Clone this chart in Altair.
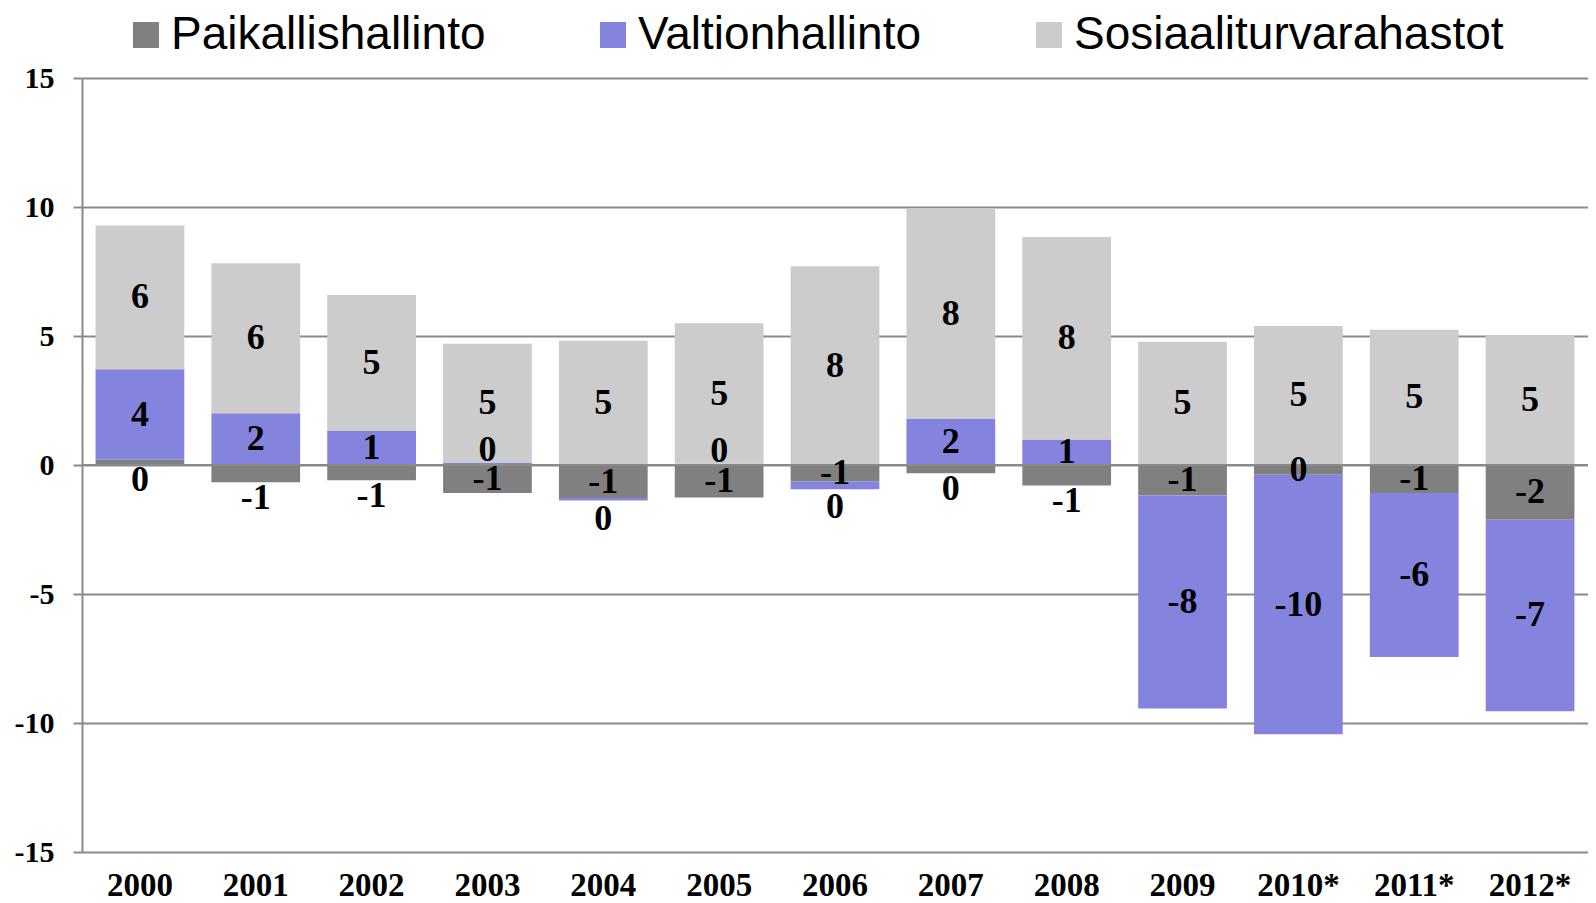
import altair as alt
import pandas as pd

years = ["2000", "2001", "2002", "2003", "2004", "2005", "2006",
         "2007", "2008", "2009", "2010*", "2011*", "2012*"]
series = ["Paikallishallinto", "Valtionhallinto", "Sosiaaliturvarahastot"]
colors = ["#808080", "#8484DE", "#CCCCCC"]

paikallis = [0.2, -0.67, -0.59, -1.09, -1.28, -1.26, -0.64, -0.32, -0.79, -1.18, -0.38, -1.09, -2.12]
valtion = [3.51, 2.01, 1.34, 0.1, -0.1, 0.05, -0.3, 1.78, 0.99, -8.26, -10.06, -6.35, -7.42]
sosiaali = [5.57, 5.81, 5.25, 4.6, 4.82, 5.44, 7.70, 8.17, 7.85, 4.78, 5.39, 5.24, 5.04]

y_ticks = [-15, -10, -5, 0, 5, 10, 15]

rows = []
for i, y in enumerate(years):
    for k, (s, vals) in enumerate(zip(series, [paikallis, valtion, sosiaali])):
        rows.append({"year": y, "series": s, "value": vals[i], "ord": k})
df = pd.DataFrame(rows)

GRID = "#8a8a8a"

x_enc = alt.X(
    "year:N", sort=years,
    scale=alt.Scale(paddingInner=0.234, paddingOuter=0.117),
    axis=alt.Axis(title=None, labelAngle=0, ticks=False, domain=False, grid=False,
                  labelFont="Liberation Serif", labelFontWeight="bold",
                  labelFontSize=33, labelColor="black", labelPadding=17),
)

base = alt.Chart(df)

bars = base.mark_bar().encode(
    x=x_enc,
    y=alt.Y("value:Q", stack="zero",
            scale=alt.Scale(domain=[-15, 15], nice=False),
            axis=alt.Axis(title=None, values=y_ticks, grid=True, gridColor=GRID, gridWidth=2,
                          domain=True, domainColor=GRID, domainWidth=2,
                          ticks=True, tickSize=9, tickColor=GRID, tickWidth=2,
                          labelExpr="'' + datum.value",
                          labelFont="Liberation Serif", labelFontWeight="bold",
                          labelFontSize=30, labelColor="black", labelPadding=19)),
    color=alt.Color("series:N", sort=series,
                    scale=alt.Scale(domain=series, range=colors),
                    legend=alt.Legend(orient="none", legendX=41, legendY=-66,
                                      direction="horizontal", title=None,
                                      symbolType="square", symbolSize=676,
                                      symbolStrokeWidth=0, symbolOpacity=1,
                                      labelFont="Liberation Sans", labelFontSize=46,
                                      labelColor="black", labelOffset=2,
                                      columnPadding=104, labelLimit=800)),
    order=alt.Order("ord:Q"),
)

zero_rule = alt.Chart(pd.DataFrame({"z": [0]})).mark_rule(
    color=GRID, strokeWidth=2).encode(y="z:Q")

labels = base.transform_calculate(
    vval="datum.series == 'Valtionhallinto' ? datum.value : 0",
).transform_joinaggregate(
    valt="sum(vval)", groupby=["year"],
).transform_stack(
    stack="value", groupby=["year"], as_=["v0", "v1"],
    sort=[alt.SortField("ord", order="ascending")],
).transform_calculate(
    lo="min(datum.v0, datum.v1)", hi="max(datum.v0, datum.v1)",
).transform_calculate(
    pos="(datum.series == 'Paikallishallinto' && abs(datum.value) < 1 && datum.valt > 0) ? datum.lo - 0.6 : "
        "(datum.series == 'Valtionhallinto' && abs(datum.value) < 0.35) ? "
        "(datum.value > 0 ? datum.hi + 0.5 : datum.lo - 0.7) : (datum.v0 + datum.v1) / 2",
    lab="'' + round(datum.value)",
).mark_text(font="Liberation Serif", fontWeight="bold", fontSize=36,
            baseline="middle", color="black").encode(
    x=alt.X("year:N", sort=years),
    y=alt.Y("pos:Q"),
    text="lab:N",
)

chart = alt.layer(bars, zero_rule, labels).properties(
    width=1506, height=774,
    autosize=alt.AutoSizeParams(type="none"),
    padding={"left": 74, "top": 70, "right": 0, "bottom": 54},
).configure_view(strokeWidth=0)

chart.save("out.html", embed_options={"renderer": "svg", "actions": False})
